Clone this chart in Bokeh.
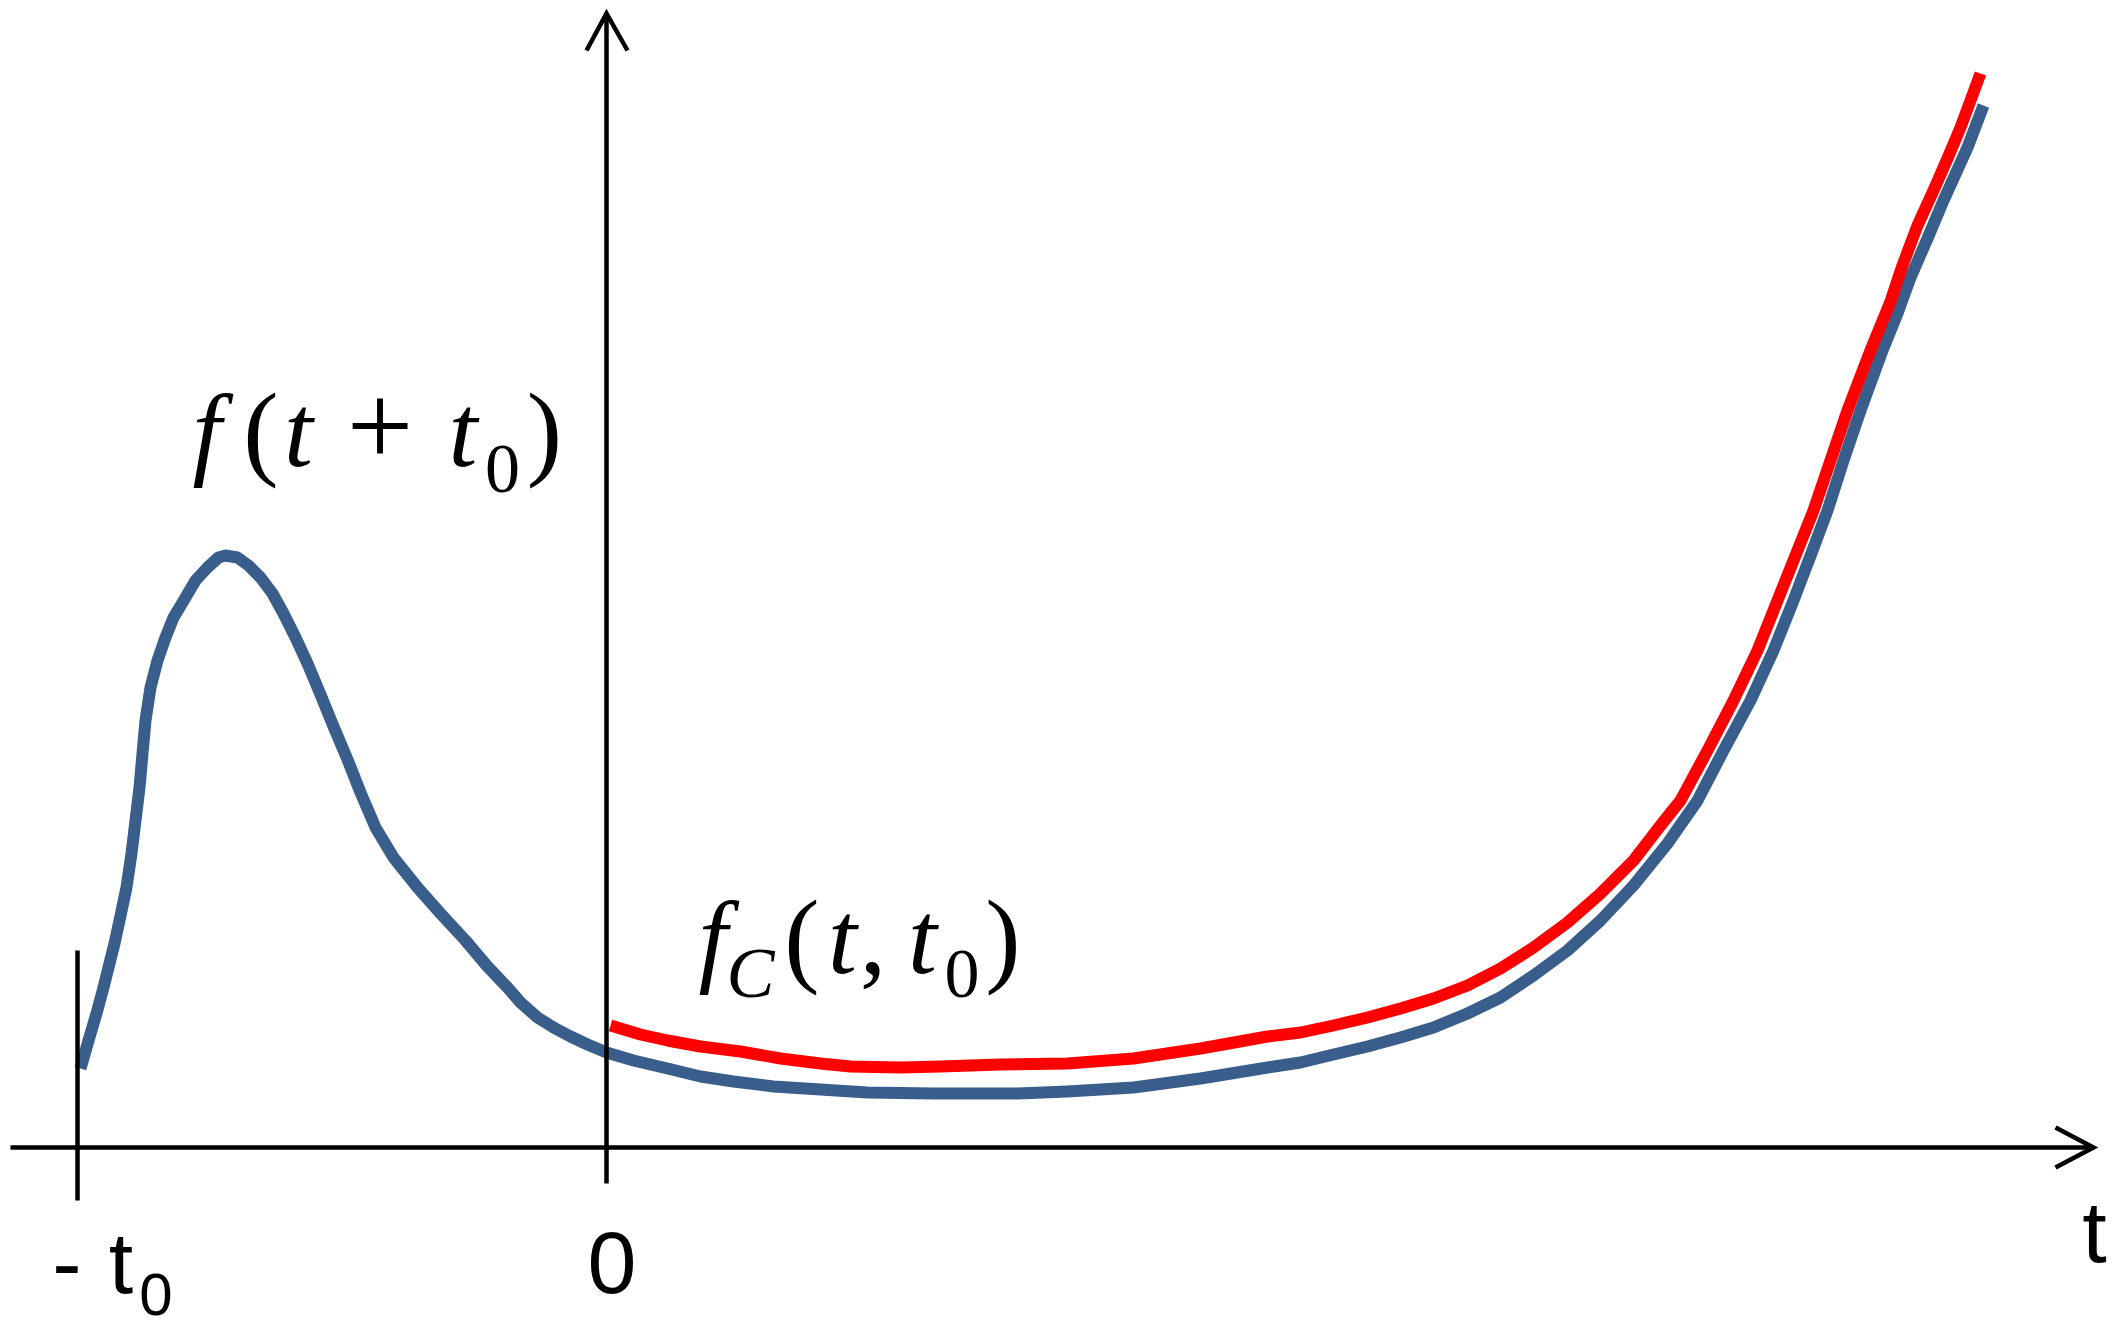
from bokeh.plotting import figure
from bokeh.models import Range1d
from bokeh.core.properties import value
from bokeh.embed import file_html
from bokeh.resources import INLINE

# ---------------- data ----------------
# f(t + t0): the shifted signal, defined from -t0 onwards
blue_t = [-5.26, -5.18, -5.10, -5.03, -4.98, -4.92, -4.87, -4.80, -4.75, -4.71,
          -4.67, -4.64, -4.61, -4.56, -4.49, -4.41, -4.33, -4.21, -4.11, -3.99,
          -3.88, -3.81, -3.69, -3.58, -3.46, -3.34, -3.23, -3.11, -2.99, -2.86,
          -2.73, -2.59, -2.46, -2.31, -2.13, -1.89, -1.66, -1.41, -1.19, -0.99,
          -0.86, -0.69, -0.53, -0.36, -0.19, 0.00, 0.27, 0.61, 0.94, 1.27,
          1.67, 2.14, 2.61, 3.27, 4.11, 4.61, 5.27, 5.94, 6.61, 6.94,
          7.27, 7.61, 7.94, 8.27, 8.61, 8.94, 9.27, 9.61, 9.94, 10.27,
          10.61, 10.91, 11.17, 11.44, 11.67, 11.87, 12.06, 12.21, 12.37, 12.54,
          12.76, 12.91, 13.04, 13.21, 13.37, 13.61, 13.77]
blue_f = [0.79, 1.07, 1.34, 1.60, 1.80, 2.04, 2.27, 2.60, 2.94, 3.27,
          3.60, 3.94, 4.27, 4.60, 4.87, 5.10, 5.30, 5.50, 5.67, 5.80,
          5.90, 5.92, 5.90, 5.82, 5.70, 5.54, 5.34, 5.10, 4.84, 4.53,
          4.21, 3.88, 3.55, 3.20, 2.90, 2.60, 2.34, 2.07, 1.81, 1.60,
          1.45, 1.30, 1.20, 1.11, 1.03, 0.95, 0.87, 0.79, 0.71, 0.66,
          0.61, 0.58, 0.55, 0.54, 0.54, 0.56, 0.60, 0.69, 0.80, 0.85,
          0.93, 1.01, 1.10, 1.20, 1.34, 1.50, 1.72, 1.97, 2.27, 2.62,
          3.04, 3.47, 3.97, 4.47, 4.97, 5.47, 5.97, 6.37, 6.87, 7.37,
          7.97, 8.34, 8.70, 9.09, 9.47, 10.00, 10.42]

# f_C(t, t0): the causal counterpart, defined from 0 onwards
red_t = [0.04, 0.34, 0.61, 0.94, 1.34, 1.74, 2.14, 2.44, 2.94, 3.34,
         3.94, 4.61, 5.27, 5.94, 6.61, 6.94, 7.27, 7.61, 7.94, 8.27,
         8.61, 8.94, 9.27, 9.61, 9.94, 10.27, 10.54, 10.74, 11.01, 11.27,
         11.51, 11.71, 11.91, 12.07, 12.24, 12.41, 12.64, 12.84, 12.96, 13.11,
         13.27, 13.41, 13.54, 13.74]
red_f = [1.22, 1.13, 1.07, 1.01, 0.96, 0.89, 0.84, 0.81, 0.80, 0.81,
         0.83, 0.84, 0.89, 0.99, 1.11, 1.15, 1.22, 1.30, 1.39, 1.49,
         1.62, 1.79, 2.00, 2.25, 2.54, 2.87, 3.22, 3.47, 3.97, 4.47,
         4.97, 5.47, 5.97, 6.37, 6.87, 7.37, 7.97, 8.46, 8.82, 9.22,
         9.57, 9.89, 10.20, 10.74]

T0 = 5.29              # position of -t0 on the t axis
tick_labels = ["0"]    # origin label
axis_name = "t"

BLUE = "#3A5E8B"
RED = "#FF0000"

# ---------------- figure ----------------
p = figure(width=2125, height=1335,
           x_range=Range1d(-6.06, 15.19), y_range=Range1d(-1.88, 11.47),
           output_backend="svg", toolbar_location=None,
           x_axis_location=None, y_axis_location=None,
           min_border=0, min_border_left=0, min_border_right=0,
           min_border_top=0, min_border_bottom=0)
p.grid.visible = False
p.outline_line_color = None
p.background_fill_color = "white"
p.border_fill_color = "white"

# curves
p.line(blue_t, blue_f, line_width=12, line_color=BLUE, line_join="round")
p.line(red_t, red_f, line_width=12, line_color=RED, line_join="round")

# axes (drawn as lines, with open arrowheads)
AX = dict(line_color="black", line_width=4.5)
p.line([-5.96, 14.87], [0, 0], **AX)                      # t axis
p.line([14.49, 14.87, 14.49], [0.20, 0.0, -0.20], line_join="miter", **AX)
p.line([0, 0], [-0.36, 11.34], **AX)                      # vertical axis
p.line([-0.20, 0.0, 0.21], [10.97, 11.34, 10.97], line_join="miter", **AX)
p.line([-T0, -T0], [-0.53, 1.97], **AX)                   # -t0 marker

# ---------------- labels ----------------
SERIF = value("Liberation Serif")
SANS = value("Liberation Sans")
COMMON = dict(text_align="center", text_baseline="alphabetic", text_color="black")

# f(t + t0)
y1 = 7.17
p.text(x=[-3.995, -3.08, -1.435], y=[y1] * 3, text=["f", "t", "t"],
       text_font=SERIF, text_font_style="italic", text_font_size="104px", **COMMON)
p.text(x=[-3.455, -0.62], y=[y1] * 2, text=["(", ")"],
       text_font=SERIF, text_font_size="106px", **COMMON)
p.text(x=[-2.265], y=[7.21], text=["+"],
       text_font=SERIF, text_font_size="118px", **COMMON)
p.text(x=[-1.04], y=[6.79], text=["0"],
       text_font=SERIF, text_font_size="70px", **COMMON)

# f_C(t, t0)
y2 = 2.10
p.text(x=[1.065, 2.36, 3.16], y=[y2] * 3, text=["f", "t", "t"],
       text_font=SERIF, text_font_style="italic", text_font_size="104px", **COMMON)
p.text(x=[1.955, 2.665, 3.965], y=[y2] * 3, text=["(", ",", ")"],
       text_font=SERIF, text_font_size="106px", **COMMON)
p.text(x=[1.44], y=[1.75], text=["C"],
       text_font=SERIF, text_font_style="italic", text_font_size="72px", **COMMON)
p.text(x=[3.555], y=[1.74], text=["0"],
       text_font=SERIF, text_font_size="70px", **COMMON)

# axis labels: "- t0", "0", "t"
p.text(x=[-5.395, -4.855, 0.055, 14.88], y=[-1.15, -1.15, -1.15, -0.84],
       text=["-", "t", tick_labels[0], axis_name],
       text_font=SANS, text_font_size="88px", **COMMON)
p.text(x=[-4.505], y=[-1.47], text=["0"],
       text_font=SANS, text_font_size="60px", **COMMON)

open("out.html", "w").write(file_html(p, INLINE))
